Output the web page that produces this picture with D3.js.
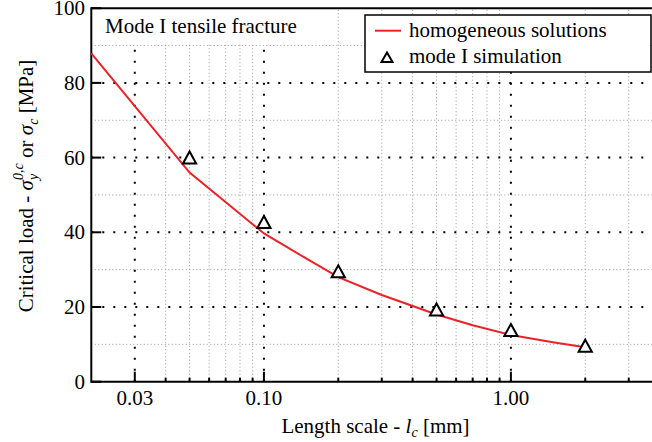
<!DOCTYPE html>
<html>
<head>
<meta charset="utf-8">
<script src="https://cdn.jsdelivr.net/npm/d3@7"></script>
<style>
  html, body { margin: 0; padding: 0; background: #fff; }
  svg { display: block; }
  text { font-family: 'Liberation Serif', 'Times New Roman', Times, serif; }
</style>
</head>
<body>
<svg id="chart" width="652" height="442" font-family="Liberation Serif, serif"></svg>
<script>
// ---- data ----
const curveX = [0.02, 0.05, 0.1, 0.15, 0.2, 0.3, 0.5, 0.7, 1.0, 1.5, 2.0];
const curveY = [87.9, 56.0, 39.7, 32.8, 28.0, 23.2, 18.0, 15.1, 12.5, 10.5, 9.2];
const simX = [0.05, 0.1, 0.2, 0.5, 1.0, 2.0];
const simY = [60.0, 42.7, 29.5, 19.3, 13.8, 9.6];
const xMajorTicks = [0.03, 0.1, 1.0];
const xMinorTicks = [0.04, 0.05, 0.06, 0.07, 0.08, 0.09, 0.2, 0.3, 0.4, 0.5, 0.6, 0.7, 0.8, 0.9, 2, 3];
const yMajorTicks = [0, 20, 40, 60, 80, 100];
const yMinorTicks = [10, 30, 50, 70, 90];
const xDomain = [0.02, 4];
const yDomain = [0, 100];
const legendLabels = ["homogeneous solutions", "mode I simulation"];
const titleText = "Mode I tensile fracture";

(function () {
// ---- layout ----
const svg = d3.select("#chart");
const pL = 91.3, pR = 659.6, pT = 8.2, pB = 381.7;
const x = d3.scaleLog().domain(xDomain).range([pL, pR]);
const y = d3.scaleLinear().domain(yDomain).range([pB, pT]);
const fs = 21;
const red = "#e8232a";
const FF = "Liberation Serif, Times New Roman, serif";

// minor grid
const g = svg.append("g");
g.selectAll(".vmin").data(xMinorTicks).join("line")
  .attr("x1", d => x(d)).attr("x2", d => x(d)).attr("y1", pB).attr("y2", pT)
  .attr("stroke", "#9a9a9a").attr("stroke-width", 1).attr("stroke-dasharray", "1,2.5");
g.selectAll(".hmin").data(yMinorTicks).join("line")
  .attr("x1", pL).attr("x2", pR).attr("y1", d => y(d)).attr("y2", d => y(d))
  .attr("stroke", "#9a9a9a").attr("stroke-width", 1).attr("stroke-dasharray", "1,2.5");
// major grid
g.selectAll(".vmaj").data(xMajorTicks).join("line")
  .attr("x1", d => x(d)).attr("x2", d => x(d)).attr("y1", pB).attr("y2", pT)
  .attr("stroke", "#000").attr("stroke-width", 2).attr("stroke-dasharray", "2,9");
g.selectAll(".hmaj").data(yMajorTicks.filter(d => d > 0 && d < 100)).join("line")
  .attr("x1", pL).attr("x2", pR).attr("y1", d => y(d)).attr("y2", d => y(d))
  .attr("stroke", "#000").attr("stroke-width", 2).attr("stroke-dasharray", "2,9");

// title box
svg.append("rect").attr("x", pL + 1).attr("y", pT + 1).attr("width", 218).attr("height", 33).attr("fill", "#fff");
svg.append("text").attr("font-family", FF).attr("x", 105).attr("y", 33).attr("font-size", fs).text(titleText);

// axes frame
svg.append("line").attr("x1", pL).attr("x2", pR).attr("y1", pB).attr("y2", pB).attr("stroke", "#000").attr("stroke-width", 2);
svg.append("line").attr("x1", pL).attr("x2", pR).attr("y1", pT).attr("y2", pT).attr("stroke", "#000").attr("stroke-width", 2);
svg.append("line").attr("x1", pL).attr("x2", pL).attr("y1", pT - 1).attr("y2", pB + 1).attr("stroke", "#000").attr("stroke-width", 2);
svg.append("line").attr("x1", pR).attr("x2", pR).attr("y1", pT - 1).attr("y2", pB + 1).attr("stroke", "#000").attr("stroke-width", 2);

// x ticks
svg.selectAll(".xtM").data(xMajorTicks).join("line")
  .attr("x1", d => x(d)).attr("x2", d => x(d)).attr("y1", pB).attr("y2", pB - 10)
  .attr("stroke", "#000").attr("stroke-width", 2);
svg.selectAll(".xtm").data(xMinorTicks).join("line")
  .attr("x1", d => x(d)).attr("x2", d => x(d)).attr("y1", pB).attr("y2", pB - 4)
  .attr("stroke", "#000").attr("stroke-width", 2);
svg.selectAll(".xtl").data(xMajorTicks).join("text").attr("font-family", FF)
  .attr("x", d => x(d)).attr("y", 405).attr("text-anchor", "middle").attr("font-size", fs)
  .text(d => d3.format(".2f")(d));

// y ticks
svg.selectAll(".ytM").data(yMajorTicks).join("line")
  .attr("x1", pL).attr("x2", pL + 10).attr("y1", d => y(d)).attr("y2", d => y(d))
  .attr("stroke", "#000").attr("stroke-width", 2);
svg.selectAll(".ytl").data(yMajorTicks).join("text").attr("font-family", FF)
  .attr("x", 85).attr("y", d => y(d) + 7).attr("text-anchor", "end").attr("font-size", fs)
  .text(d => d);

// x label
const xl = svg.append("text").attr("font-family", FF).attr("x", 375.5).attr("y", 433).attr("text-anchor", "middle").attr("font-size", fs);
xl.append("tspan").text("Length scale - ");
xl.append("tspan").attr("font-style", "italic").text("l");
xl.append("tspan").attr("font-style", "italic").attr("font-size", 14).attr("dy", 4).text("c");
xl.append("tspan").attr("dy", -4).text(" [mm]");

// y label
const yl = svg.append("text").attr("font-family", FF).attr("transform", "translate(33,186) rotate(-90)")
  .attr("text-anchor", "middle").attr("font-size", fs);
yl.append("tspan").text("Critical load - ");
yl.append("tspan").attr("font-style", "italic").text("σ");
yl.append("tspan").attr("font-style", "italic").attr("font-size", 14).attr("dy", 5).text("y");
yl.append("tspan").attr("font-style", "italic").attr("font-size", 14).attr("dx", -6).attr("dy", -15).text("0,c");
yl.append("tspan").attr("dy", 10).text(" or ");
yl.append("tspan").attr("font-style", "italic").text("σ");
yl.append("tspan").attr("font-style", "italic").attr("font-size", 14).attr("dy", 5).text("c");
yl.append("tspan").attr("dy", -5).text(" [MPa]");

// curve
const curveData = curveX.map((v, i) => [v, curveY[i]]);
svg.append("path").datum(curveData)
  .attr("d", d3.line().x(d => x(d[0])).y(d => y(d[1])))
  .attr("fill", "none").attr("stroke", red).attr("stroke-width", 2);

// markers
const tri = "M0,-6.2L6.6,5.8L-6.6,5.8Z";
const simData = simX.map((v, i) => [v, simY[i]]);
svg.selectAll(".sim").data(simData).join("path")
  .attr("d", tri).attr("transform", d => `translate(${x(d[0])},${y(d[1])})`)
  .attr("fill", "#fff").attr("stroke", "#000").attr("stroke-width", 2).attr("stroke-linejoin", "miter");

// legend
svg.append("rect").attr("x", 365).attr("y", 15).attr("width", 286).attr("height", 57)
  .attr("fill", "#fff").attr("stroke", "#000").attr("stroke-width", 1.5);
svg.append("line").attr("x1", 375).attr("x2", 401).attr("y1", 30.7).attr("y2", 30.7).attr("stroke", red).attr("stroke-width", 2);
svg.append("path").attr("d", "M0,-5L5.5,4.6L-5.5,4.6Z").attr("transform", "translate(387,57.5)")
  .attr("fill", "#fff").attr("stroke", "#000").attr("stroke-width", 2);
svg.selectAll(".lg").data(legendLabels).join("text").attr("font-family", FF)
  .attr("x", 409).attr("y", (d, i) => 37 + i * 26).attr("font-size", fs).text(d => d);
})();
</script>
</body>
</html>
